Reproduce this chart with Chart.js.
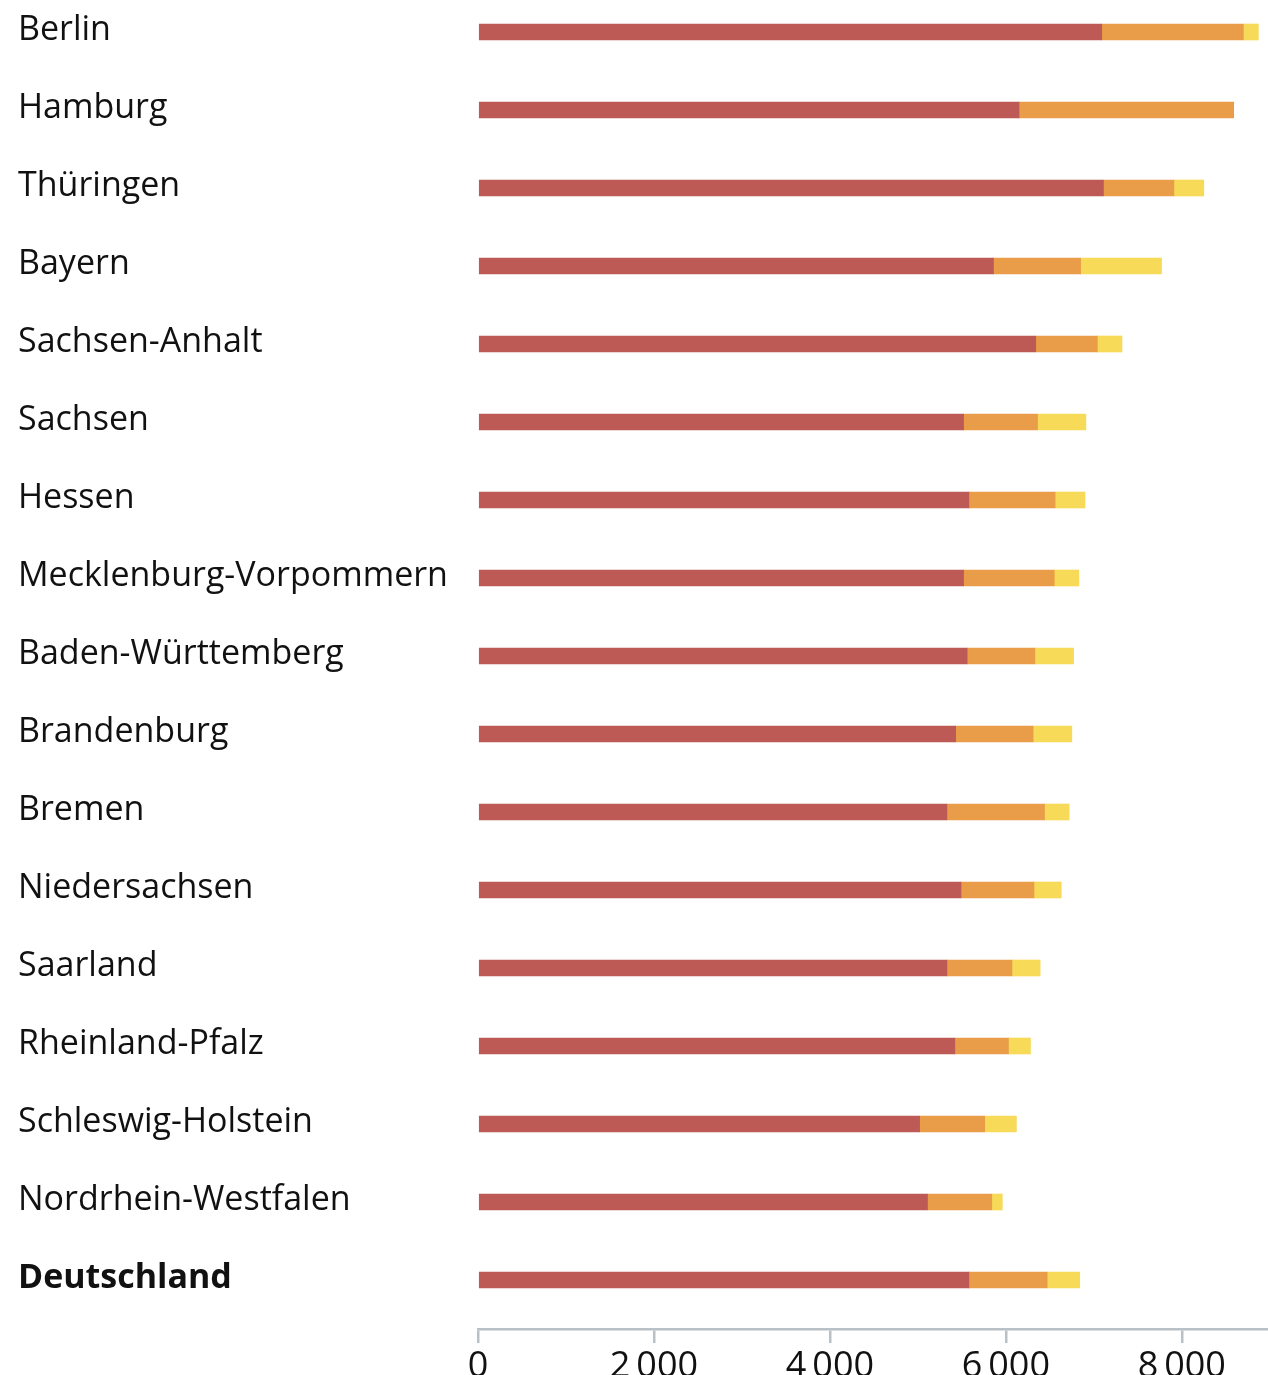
<!DOCTYPE html>
<html>
<head>
<meta charset="utf-8">
<script src="https://cdn.jsdelivr.net/npm/chart.js@4"></script>
<style>
    html, body { margin: 0; padding: 0; background: #fff; overflow: hidden; }
    #wrap { position: absolute; left: 0; top: -7px; width: 1268px; height: 1382px; }
</style>
</head>
<body>
<div id="wrap"><canvas id="laenderChart"></canvas></div>

<script>
const laender = [
    "Berlin", "Hamburg", "Thüringen", "Bayern", "Sachsen-Anhalt", "Sachsen",
    "Hessen", "Mecklenburg-Vorpommern", "Baden-Württemberg", "Brandenburg",
    "Bremen", "Niedersachsen", "Saarland", "Rheinland-Pfalz",
    "Schleswig-Holstein", "Nordrhein-Westfalen", "Deutschland"
];

// three stacked parts per row
const teilRot = [7090, 6150, 7110, 5860, 6340, 5520, 5580, 5520, 5560, 5430, 5330, 5490, 5330, 5420, 5020, 5110, 5580];
const teilOrange = [1610, 2440, 800, 990, 700, 840, 980, 1030, 770, 880, 1110, 830, 740, 610, 740, 730, 890];
const teilGelb = [170, 0, 340, 920, 280, 550, 340, 280, 440, 440, 280, 310, 320, 250, 360, 120, 370];

const xTicks = [0, 2000, 4000, 6000, 8000];

const FONT = "'Open Sans', 'Noto Sans', sans-serif";
const AXIS_GREY = "#b9c0c6";

/* =====================================
   x axis sits a bit below the bars
===================================== */
const shiftAxis = {
    id: "shiftAxis",
    afterLayout(chart) {
        const s = chart.scales.x;
        s.top += 10;
        s.bottom += 10;
    }
};

function formatNumber(v) {
    return String(v).replace(/\B(?=(\d{3})+(?!\d))/g, "\u2009");
}

const ctx = document.getElementById("laenderChart").getContext("2d");

new Chart(ctx, {
    type: "bar",
    data: {
        labels: laender,
        datasets: [
            { label: "Rot", data: teilRot, backgroundColor: "#be5a55" },
            { label: "Orange", data: teilOrange, backgroundColor: "#e99d48" },
            { label: "Gelb", data: teilGelb, backgroundColor: "#f6da58" }
        ]
    },
    options: {
        indexAxis: "y",
        responsive: true,
        maintainAspectRatio: false,
        animation: false,
        datasets: {
            bar: { barThickness: 16, borderWidth: 0 }
        },
        layout: {
            padding: { left: 18, right: 0, top: 0, bottom: 0 }
        },
        plugins: {
            legend: { display: false },
            tooltip: { enabled: false }
        },
        scales: {
            x: {
                stacked: true,
                min: 0,
                max: 8980,
                afterBuildTicks: axis => {
                    axis.ticks = xTicks.map(v => ({ value: v }));
                },
                afterFit: scale => {
                    scale.height = 56;
                    scale.paddingLeft = 0;
                    scale.paddingRight = 0;
                },
                grid: {
                    drawOnChartArea: false,
                    drawTicks: true,
                    tickLength: 14,
                    color: AXIS_GREY,
                    lineWidth: 2.5
                },
                border: { display: true, color: AXIS_GREY, width: 2.5 },
                ticks: {
                    color: "#111",
                    padding: 2,
                    maxRotation: 0,
                    font: { family: FONT, size: 36 },
                    callback: v => formatNumber(v)
                }
            },
            y: {
                stacked: true,
                afterFit: scale => {
                    scale.width = 460;
                    scale.paddingTop = 0;
                    scale.paddingBottom = 0;
                },
                grid: { display: false },
                border: { display: false },
                ticks: {
                    crossAlign: "far",
                    labelOffset: -2,
                    color: "#111",
                    font: c => ({
                        family: FONT,
                        size: 34,
                        weight: c.index === laender.length - 1 ? "bold" : "normal"
                    })
                }
            }
        }
    },
    plugins: [shiftAxis]
});
</script>
</body>
</html>
